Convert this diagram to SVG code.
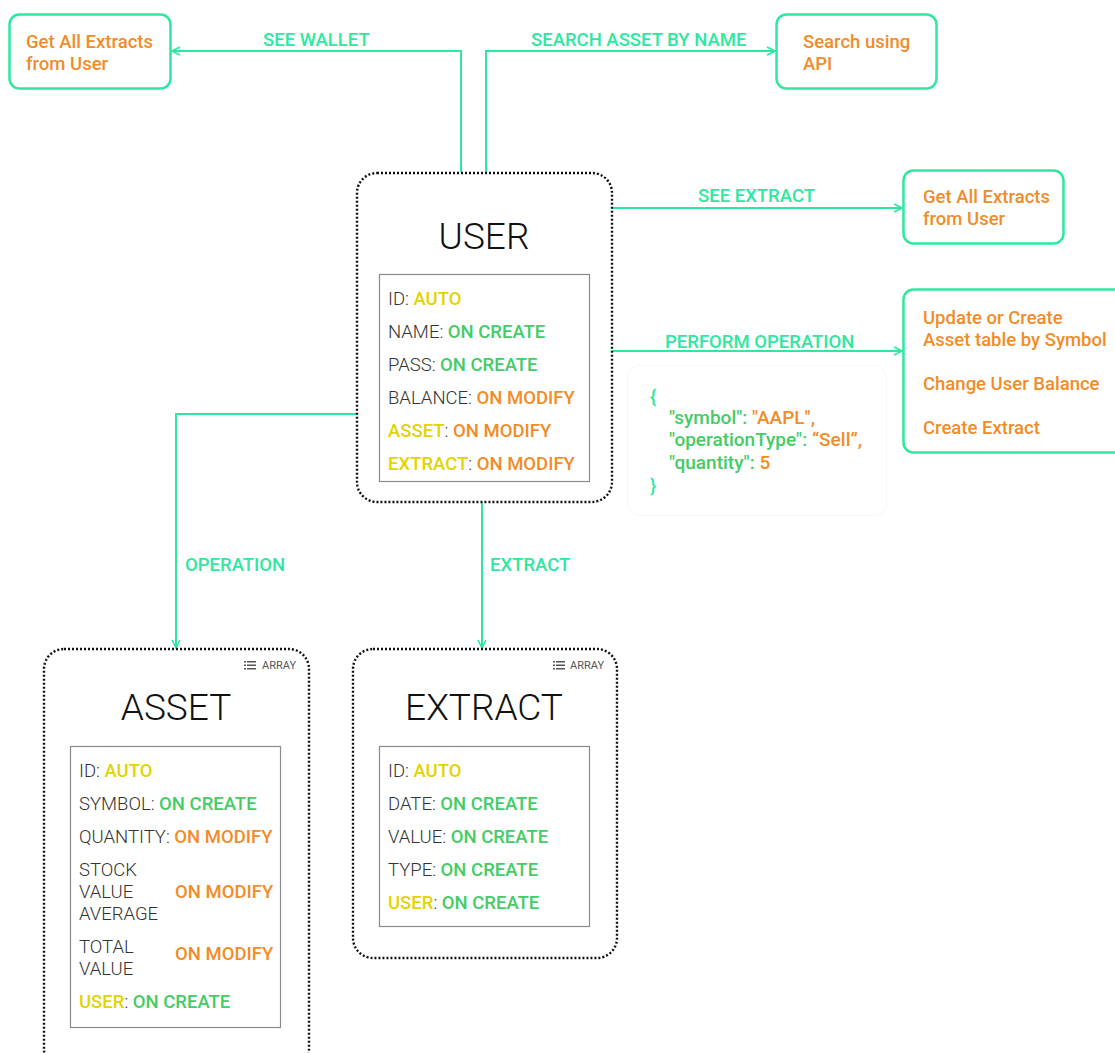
<svg xmlns="http://www.w3.org/2000/svg" width="1115" height="1053" viewBox="0 0 1115 1053">
<style>
.bg{fill:#ffffff}
.act{fill:#ffffff;stroke:#2ee8a0;stroke-width:2.5}
.actt{font-family:Roboto,"Liberation Sans",sans-serif;font-weight:500;font-size:18.5px;fill:#f28c28}
.lbl{font-family:Roboto,"Liberation Sans",sans-serif;font-weight:500;font-size:18.5px;fill:#2ee8a0}
.conn{fill:none;stroke:#2ee8a0;stroke-width:2}
.ent{fill:#ffffff;stroke:#111;stroke-width:2.4;stroke-dasharray:2 2}
.title{font-family:Roboto,"Liberation Sans",sans-serif;font-weight:300;font-size:37px;fill:#111;text-anchor:middle}
.inner{fill:#fff;stroke:#8a8a8a;stroke-width:1.2}
.row{font-family:Roboto,"Liberation Sans",sans-serif;font-weight:300;font-size:18.5px;fill:#333}
.y{fill:#e2d400;font-weight:500}
.g{fill:#44cc66;font-weight:500}
.o{fill:#f28c28;font-weight:500}
.arr{font-family:Roboto,"Liberation Sans",sans-serif;font-weight:400;font-size:11px;fill:#555}
.json{font-family:Roboto,"Liberation Sans",sans-serif;font-weight:500;font-size:19px;fill:#44cc66}
</style>
<defs>
<marker id="ah" viewBox="0 0 10 10" refX="9" refY="5" markerWidth="10" markerHeight="10" markerUnits="userSpaceOnUse" orient="auto">
<path d="M1,1 L9,5 L1,9" fill="none" stroke="#2ee8a0" stroke-width="1.6"/>
</marker>
<g id="listicon">
<rect x="0" y="0" width="2" height="1.5" fill="#555"/>
<rect x="3" y="0" width="9" height="1.5" fill="#555"/>
<rect x="0" y="3.5" width="2" height="1.5" fill="#555"/>
<rect x="3" y="3.5" width="9" height="1.5" fill="#555"/>
<rect x="0" y="7" width="2" height="1.5" fill="#555"/>
<rect x="3" y="7" width="9" height="1.5" fill="#555"/>
</g>
</defs>
<rect class="bg" x="0" y="0" width="1115" height="1053"/>

<g id="connectors">
<path class="conn" d="M461,172 V51 H172" marker-end="url(#ah)"/>
<text class="lbl" x="263" y="46">SEE WALLET</text>
<path class="conn" d="M486,172 V51 H775" marker-end="url(#ah)"/>
<text class="lbl" x="531" y="46">SEARCH ASSET BY NAME</text>
<path class="conn" d="M612,208 H902" marker-end="url(#ah)"/>
<text class="lbl" x="698" y="202">SEE EXTRACT</text>
<path class="conn" d="M612,351 H902" marker-end="url(#ah)"/>
<text class="lbl" x="665" y="348">PERFORM OPERATION</text>
<path class="conn" d="M356,414 H176 V648" marker-end="url(#ah)"/>
<text class="lbl" x="185" y="571">OPERATION</text>
<path class="conn" d="M482,502 V648" marker-end="url(#ah)"/>
<text class="lbl" x="490" y="571">EXTRACT</text>
</g>

<g id="see-wallet-target">
<rect class="act" x="9.5" y="14.5" width="161" height="74" rx="10"/>
<text class="actt" x="26" y="48">Get All Extracts</text>
<text class="actt" x="26" y="70">from User</text>
</g>

<g id="search-api">
<rect class="act" x="776.5" y="14.5" width="160" height="74" rx="10"/>
<text class="actt" x="803" y="48">Search using</text>
<text class="actt" x="803" y="70">API</text>
</g>

<g id="see-extract-target">
<rect class="act" x="903.5" y="170.5" width="160" height="73" rx="10"/>
<text class="actt" x="923" y="203">Get All Extracts</text>
<text class="actt" x="923" y="225">from User</text>
</g>

<g id="perform-operation-target">
<rect class="act" x="903.5" y="289.5" width="230" height="163" rx="10"/>
<text class="actt" x="923" y="324">Update or Create</text>
<text class="actt" x="923" y="346">Asset table by Symbol</text>
<text class="actt" x="923" y="390">Change User Balance</text>
<text class="actt" x="923" y="434">Create Extract</text>
</g>

<g id="json-note">
<rect x="627.5" y="365.5" width="259" height="150" rx="12" fill="none" stroke="#f7f7f7" stroke-width="1"/>
<text class="json" x="650" y="403" style="fill:#2ee8a0">{</text>
<text class="json" x="669" y="424">"symbol": <tspan class="o">"AAPL",</tspan></text>
<text class="json" x="669" y="446">"operationType": <tspan class="o">“Sell”,</tspan></text>
<text class="json" x="669" y="469">"quantity": <tspan class="o">5</tspan></text>
<text class="json" x="650" y="492" style="fill:#2ee8a0">}</text>
</g>

<g id="user">
<rect class="ent" x="357" y="173" width="255" height="329" rx="20"/>
<text class="title" x="484" y="249">USER</text>
<rect class="inner" x="379.5" y="274.5" width="210" height="207"/>
<text class="row" x="388" y="305">ID: <tspan class="y">AUTO</tspan></text>
<text class="row" x="388" y="338">NAME: <tspan class="g">ON CREATE</tspan></text>
<text class="row" x="388" y="371">PASS: <tspan class="g">ON CREATE</tspan></text>
<text class="row" x="388" y="404">BALANCE: <tspan class="o">ON MODIFY</tspan></text>
<text class="row" x="388" y="437"><tspan class="y">ASSET</tspan>: <tspan class="o">ON MODIFY</tspan></text>
<text class="row" x="388" y="470"><tspan class="y">EXTRACT</tspan>: <tspan class="o">ON MODIFY</tspan></text>
</g>

<g id="asset">
<rect class="ent" x="44" y="649" width="265" height="420" rx="20"/>
<use href="#listicon" x="244" y="661"/>
<text class="arr" x="262" y="669">ARRAY</text>
<text class="title" x="176" y="720">ASSET</text>
<rect class="inner" x="70.5" y="746.5" width="210" height="281"/>
<text class="row" x="79" y="777">ID: <tspan class="y">AUTO</tspan></text>
<text class="row" x="79" y="810">SYMBOL: <tspan class="g">ON CREATE</tspan></text>
<text class="row" x="79" y="843">QUANTITY: <tspan class="o">ON MODIFY</tspan></text>
<text class="row" x="79" y="876">STOCK</text>
<text class="row" x="79" y="898">VALUE</text>
<text class="row" x="79" y="920">AVERAGE</text>
<text class="row o" x="175" y="898">ON MODIFY</text>
<text class="row" x="79" y="953">TOTAL</text>
<text class="row" x="79" y="975">VALUE</text>
<text class="row o" x="175" y="960">ON MODIFY</text>
<text class="row" x="79" y="1008"><tspan class="y">USER</tspan>: <tspan class="g">ON CREATE</tspan></text>
</g>

<g id="extract">
<rect class="ent" x="353" y="649" width="264" height="309" rx="20"/>
<use href="#listicon" x="553" y="661"/>
<text class="arr" x="570" y="669">ARRAY</text>
<text class="title" x="484" y="720">EXTRACT</text>
<rect class="inner" x="379.5" y="746.5" width="210" height="180"/>
<text class="row" x="388" y="777">ID: <tspan class="y">AUTO</tspan></text>
<text class="row" x="388" y="810">DATE: <tspan class="g">ON CREATE</tspan></text>
<text class="row" x="388" y="843">VALUE: <tspan class="g">ON CREATE</tspan></text>
<text class="row" x="388" y="876">TYPE: <tspan class="g">ON CREATE</tspan></text>
<text class="row" x="388" y="909"><tspan class="y">USER</tspan>: <tspan class="g">ON CREATE</tspan></text>
</g>
</svg>
